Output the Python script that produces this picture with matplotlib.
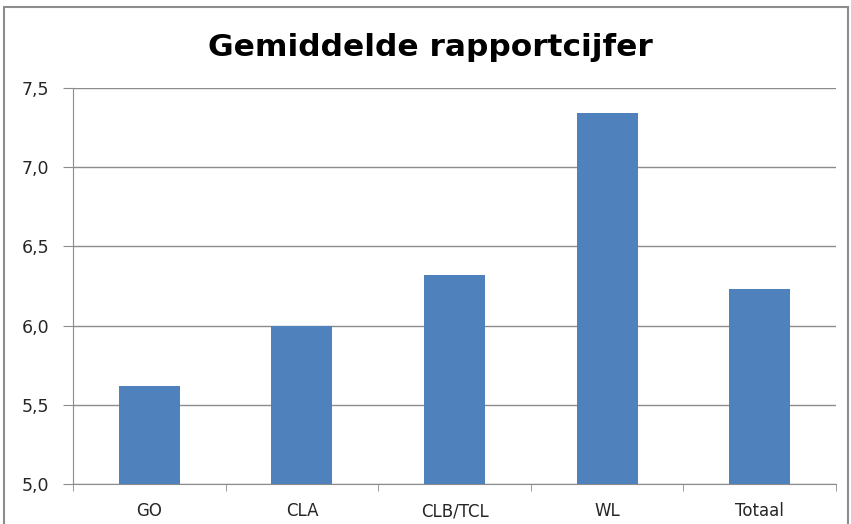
import matplotlib
matplotlib.use('Agg')
import matplotlib.pyplot as plt
from matplotlib.patches import Rectangle

# --- data ---
categories = ['GO', 'CLA', 'CLB/TCL', 'WL', 'Totaal']
values = [5.62, 6.00, 6.32, 7.34, 6.23]
yticks = [5.0, 5.5, 6.0, 6.5, 7.0, 7.5]
ytick_labels = ['5,0', '5,5', '6,0', '6,5', '7,0', '7,5']

BAR_COLOR = '#4F81BD'
GRID_COLOR = '#8C8C8C'
TEXT_COLOR = '#262626'

fig = plt.figure(figsize=(8.51, 5.24), dpi=100)
ax = fig.add_axes([73 / 851, 1 - 484 / 524, (836 - 73) / 851, (484 - 88) / 524])

# outer chart frame
fig.patches.append(Rectangle((4 / 851, -0.1), (848 - 4) / 851, 1.1 - 7 / 524,
                             transform=fig.transFigure, fill=False,
                             edgecolor='#8C8C8C', linewidth=1.5))

x = list(range(len(categories)))
ax.bar(x, values, width=0.4, color=BAR_COLOR, zorder=3)

ax.set_xlim(-0.5, len(categories) - 0.5)
ax.set_ylim(5.0, 7.5)
ax.set_yticks(yticks)
ax.set_yticklabels(ytick_labels)
ax.set_xticks(x)
ax.set_xticklabels(categories)

# tick marks between categories like the spreadsheet chart
ax.set_xticks([i - 0.5 for i in range(len(categories) + 1)], minor=True)
ax.tick_params(axis='x', which='major', length=0, pad=13, labelsize=12, labelcolor=TEXT_COLOR)
ax.tick_params(axis='x', which='minor', length=5, color=GRID_COLOR)
ax.tick_params(axis='y', length=7, color=GRID_COLOR, pad=10, labelsize=12.5, labelcolor=TEXT_COLOR)

ax.yaxis.grid(True, color=GRID_COLOR, linewidth=1, zorder=0)
for side in ['top', 'right']:
    ax.spines[side].set_visible(False)
for side in ['left', 'bottom']:
    ax.spines[side].set_color(GRID_COLOR)

fig.text(430 / 851, 1 - 56 / 524, 'Gemiddelde rapportcijfer', ha='center', va='baseline',
         fontsize=22.5, fontweight='bold', family='DejaVu Sans', color='black')

fig.savefig('out.png', dpi=100)
